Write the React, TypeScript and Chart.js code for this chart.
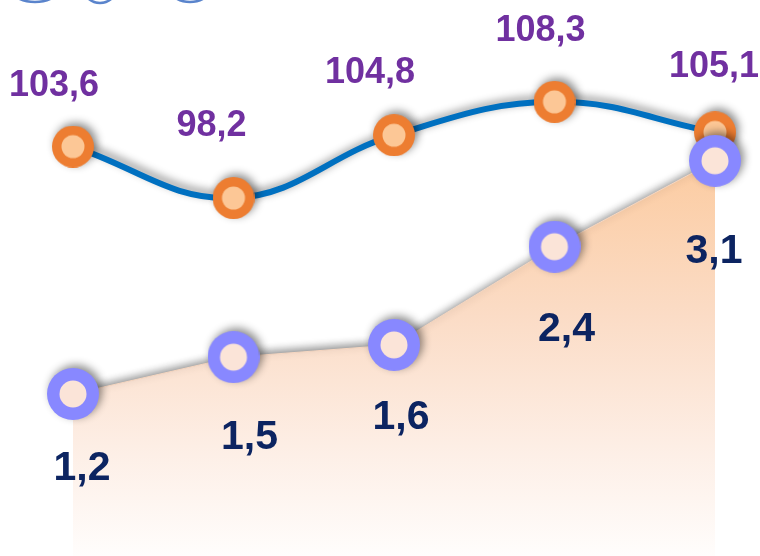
import React, { useEffect, useRef } from "react";
import { Chart, registerables } from "chart.js";

Chart.register(...registerables);

const categories = ["1", "2", "3", "4", "5"];
const indexValues = [103.6, 98.2, 104.8, 108.3, 105.1];
const areaValues = [1.2, 1.5, 1.6, 2.4, 3.1];

// label offsets (px) relative to each point
const indexLabelOffsets = [[-19, -61], [-22, -72], [-24, -62], [-14, -71], [-1, -65]];
const areaLabelOffsets = [[9, 75], [16, 81], [7, 73], [12, 83], [-1, 91]];

const fmt = (v: number) => v.toFixed(1).replace(".", ",");

function ringImage(outer: number, inner: number, ring: string, fill: string) {
  const c = document.createElement("canvas");
  const s = Math.ceil(outer * 2);
  c.width = s;
  c.height = s;
  const ctx = c.getContext("2d")!;
  ctx.fillStyle = ring;
  ctx.beginPath();
  ctx.arc(s / 2, s / 2, outer, 0, Math.PI * 2);
  ctx.fill();
  ctx.fillStyle = fill;
  ctx.beginPath();
  ctx.arc(s / 2, s / 2, inner, 0, Math.PI * 2);
  ctx.fill();
  return c;
}

export default function App() {
  const ref = useRef<HTMLCanvasElement>(null);

  useEffect(() => {
    document.body.style.margin = "0";
    const canvas = ref.current!;
    const areaPoint = ringImage(26, 13.5, "#8888ff", "#fbe4d8");
    const indexPoint = ringImage(21, 11.5, "#ed7d31", "#fcc796");

    const shadowPlugin = {
      id: "shadowPlugin",
      beforeDraw(chart: any) {
        const ctx = chart.ctx;
        ctx.save();
        ctx.strokeStyle = "#5a84cc";
        ctx.lineWidth = 2.5;
        const arcs = [[35, -22, 31, 24], [100, -18, 19, 21], [190, -22, 26, 24]];
        arcs.forEach(([cx, cy, rx, ry]) => {
          ctx.beginPath();
          ctx.ellipse(cx, cy, rx, ry, 0, 0, Math.PI * 2);
          ctx.stroke();
        });
        ctx.restore();
      },
      beforeDatasetsDraw(chart: any) {
        const ctx = chart.ctx;
        ctx.save();
        ctx.shadowColor = "rgba(0,0,0,0.45)";
        ctx.shadowBlur = 8;
        ctx.shadowOffsetX = 3;
        ctx.shadowOffsetY = -3;
      },
      afterDatasetsDraw(chart: any) {
        chart.ctx.restore();
        const ctx = chart.ctx;
        ctx.save();
        ctx.textAlign = "center";
        ctx.textBaseline = "middle";
        const metaArea = chart.getDatasetMeta(0);
        const metaIdx = chart.getDatasetMeta(1);
        ctx.font = "bold 36px 'Liberation Sans', Arial, sans-serif";
        ctx.fillStyle = "#7030a0";
        metaIdx.data.forEach((pt: any, i: number) => {
          const [dx, dy] = indexLabelOffsets[i];
          ctx.fillText(fmt(indexValues[i]), pt.x + dx, pt.y + dy);
        });
        ctx.font = "bold 41px 'Liberation Sans', Arial, sans-serif";
        ctx.fillStyle = "#0c2461";
        metaArea.data.forEach((pt: any, i: number) => {
          const [dx, dy] = areaLabelOffsets[i];
          ctx.fillText(fmt(areaValues[i]), pt.x + dx, pt.y + dy);
        });
        ctx.restore();
      },
    };

    const chart = new Chart(canvas, {
      type: "line",
      data: {
        labels: categories,
        datasets: [
          {
            data: areaValues,
            yAxisID: "y1",
            fill: "start",
            tension: 0,
            borderColor: "#f6d6c0",
            borderWidth: 1,
            backgroundColor: (c: any) => {
              const g = c.chart.ctx.createLinearGradient(0, 120, 0, 556);
              g.addColorStop(0, "#fcc797");
              g.addColorStop(0.45, "#fbdcc6");
              g.addColorStop(0.75, "#fdeee5");
              g.addColorStop(1, "#fffdfc");
              return g;
            },
            pointStyle: areaPoint,
            pointRadius: 26,
            clip: false,
          } as any,
          {
            data: indexValues,
            yAxisID: "y",
            fill: false,
            tension: 0.4,
            borderColor: "#0070c0",
            borderWidth: 6,
            pointStyle: indexPoint,
            pointRadius: 21,
            clip: false,
          } as any,
        ],
      },
      options: {
        responsive: false,
        maintainAspectRatio: false,
        animation: false,
        layout: { autoPadding: false, padding: { left: 73, right: 45, top: 0, bottom: 0 } },
        plugins: { legend: { display: false }, tooltip: { enabled: false } },
        scales: {
          x: { display: false, offset: false },
          y: { display: false, min: 60.6, max: 119.0 },
          y1: { display: false, min: -0.12, max: 4.41 },
        },
      } as any,
      plugins: [shadowPlugin],
    });
    return () => chart.destroy();
  }, []);

  return (
    <div style={{ width: 760, height: 556, background: "#fff" }}>
      <canvas ref={ref} width={760} height={556} />
    </div>
  );
}
